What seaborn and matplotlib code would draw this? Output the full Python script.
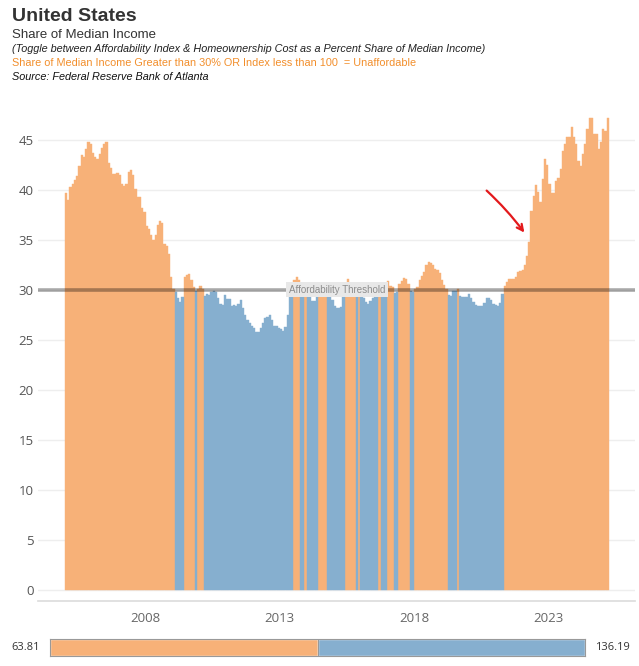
import numpy as np
import pandas as pd
import matplotlib
matplotlib.use('Agg')
import matplotlib.pyplot as plt
import seaborn as sns

# monthly homeownership cost as % of median income, Jan 2005 onwards
share_2005_2009 = [
    39.7, 39.0, 40.3, 40.55, 41.0, 41.4, 42.4, 43.5, 43.3, 44.05, 44.8, 44.55,
    43.7, 43.3, 43.05, 43.55, 44.2, 44.55, 44.8, 42.7, 42.2, 41.6, 41.6, 41.7,
    41.5, 40.6, 40.4, 40.6, 41.8, 42.0, 41.5, 40.1, 39.3, 39.3, 38.2, 37.8,
    36.4, 36.1, 35.5, 35.0, 35.5, 36.5, 36.9, 36.7, 34.6, 34.4, 33.6, 31.25,
    30.05, 29.8, 29.2, 28.8, 29.3, 31.3, 31.5, 31.55, 31.0, 30.3, 29.9, 30.1,
]
share_2010_2014 = [
    30.35, 30.05, 29.4, 29.55, 29.45, 29.8, 29.85, 29.8, 29.15, 28.6, 28.5, 29.45,
    29.05, 29.05, 28.35, 28.45, 28.35, 28.6, 29.0, 28.2, 27.5, 27.0, 26.65, 26.4,
    26.2, 25.75, 25.75, 26.2, 26.7, 27.2, 27.25, 27.5, 27.0, 26.4, 26.4, 26.2,
    26.1, 25.9, 26.3, 27.5, 29.3, 29.8, 31.0, 31.3, 31.0, 29.6, 29.4, 30.3,
    29.6, 29.3, 28.9, 28.9, 29.3, 30.3, 30.5, 30.7, 30.4, 29.5, 29.3, 29.0,
]
share_2015_2019 = [
    28.4, 28.2, 28.2, 28.3, 29.3, 30.4, 31.1, 30.5, 30.3, 30.2, 29.8, 30.2,
    29.4, 29.2, 28.8, 28.6, 28.9, 29.2, 29.5, 29.7, 30.4, 29.6, 29.7, 29.8,
    30.9, 30.4, 30.3, 29.7, 29.8, 30.6, 30.85, 31.2, 31.1, 30.6, 29.9, 29.8,
    30.1, 30.3, 31.0, 31.4, 31.8, 32.5, 32.75, 32.7, 32.5, 32.1, 32.0, 31.7,
    31.0, 30.5, 30.05, 29.5, 29.4, 29.85, 29.85, 30.05, 29.4, 29.3, 29.3, 29.3,
]
share_2020_2025 = [
    29.6, 29.2, 28.8, 28.5, 28.35, 28.35, 28.4, 28.7, 29.2, 29.2, 29.0, 28.6,
    28.5, 28.4, 28.7, 29.6, 30.35, 30.75, 31.1, 31.1, 31.1, 31.25, 31.75, 31.85,
    31.95, 32.5, 33.35, 34.8, 37.9, 39.4, 40.5, 39.8, 38.8, 41.1, 43.1, 42.5,
    40.6, 39.7, 39.7, 40.9, 41.2, 42.1, 43.85, 44.6, 45.3, 45.3, 46.3, 45.3,
    44.6, 42.85, 42.4, 43.55, 44.6, 46.1, 47.2, 47.15, 45.55, 45.55, 44.05, 44.8,
    46.1, 45.9, 47.15,
]

start_month = '2005-01'
threshold = 30
year_ticks = ['2008', '2013', '2018', '2023']
legend_min, legend_mid, legend_max = 63.81, 100, 136.19

orange = '#F7B178'
blue = '#86AFCF'

share = share_2005_2009 + share_2010_2014 + share_2015_2019 + share_2020_2025
months = pd.date_range(start_month, periods=len(share), freq='MS')
df = pd.DataFrame({'month': months.strftime('%Y-%m'), 'share': share})
df['status'] = np.where(df['share'] > threshold, 'Unaffordable', 'Affordable')

sns.set_theme(style='white')
plt.rcParams['font.family'] = ['Liberation Sans', 'DejaVu Sans']

fig = plt.figure(figsize=(6.39, 6.66), dpi=100)
ax = fig.add_axes([0.0595, 0.0976, 0.9342, 0.7454])

sns.barplot(data=df, x='month', y='share', hue='status',
            palette={'Unaffordable': orange, 'Affordable': blue},
            dodge=False, width=1.0, saturation=1, errorbar=None,
            legend=False, ax=ax)
for p in ax.patches:
    p.set_edgecolor(p.get_facecolor())
    p.set_linewidth(0.3)

ax.set_xlim(-12.56, 254.2)
ax.set_ylim(-1.05, 48.5)
ax.set_yticks(range(0, 50, 5))
ax.yaxis.grid(True, color='#EEEEEE', lw=1)
ax.xaxis.grid(False)
ax.set_axisbelow(True)

tick_pos = [df.index[df['month'] == y + '-01'][0] - 0.5 for y in year_ticks]
ax.set_xticks(tick_pos)
ax.set_xticklabels(year_ticks)
ax.set_xlabel('')
ax.set_ylabel('')
ax.tick_params(axis='x', length=3, color='#DDDDDD', pad=5, labelsize=9.5,
               labelcolor='#666666')
ax.tick_params(axis='y', length=0, pad=3, labelsize=9.5, labelcolor='#555555')
for lab in ax.get_xticklabels() + ax.get_yticklabels():
    lab.set_family(['Open Sans', 'DejaVu Sans'])
for s in ['top', 'right', 'left']:
    ax.spines[s].set_visible(False)
ax.spines['bottom'].set_color('#DDDDDD')

ax.axhline(threshold, color='black', alpha=0.33, lw=2.6, zorder=3)
ax.text(121, threshold, 'Affordability Threshold', ha='center', va='center',
        fontsize=7, color='#8C8C8C', zorder=4,
        bbox=dict(boxstyle='square,pad=0.25', fc='#E8E8E8', ec='none'))

# hand-drawn style pointer at the 2022 jump
ax.annotate('', xy=(205.5, 35.5), xytext=(187, 40.1),
            arrowprops=dict(arrowstyle='->', color='#E3191C', lw=1.6,
                            connectionstyle='arc3,rad=-0.05',
                            mutation_scale=11), zorder=5)

# header
fig.text(12 / 639, 1 - 8 / 666, 'United States', fontsize=14, fontweight='bold',
         color='#333333', va='top')
fig.text(12 / 639, 1 - 29 / 666, 'Share of Median Income', fontsize=9.5,
         color='#333333', va='top')
fig.text(12 / 639, 1 - 44 / 666,
         '(Toggle between Affordability Index & Homeownership Cost as a Percent Share of Median Income)',
         fontsize=7.8, style='italic', color='#222222', va='top')
fig.text(12 / 639, 1 - 58 / 666,
         'Share of Median Income Greater than 30% OR Index less than 100  = Unaffordable',
         fontsize=7.8, color='#F28E2B', va='top')
fig.text(12 / 639, 1 - 72 / 666, 'Source: Federal Reserve Bank of Atlanta',
         fontsize=7.8, style='italic', color='#111111', va='top')

# colour legend
lax = fig.add_axes([50 / 639, 1 - 656 / 666, 535 / 639, 17 / 666])
lax.barh(0, legend_mid - legend_min, left=legend_min, height=1, color=orange)
lax.barh(0, legend_max - legend_mid, left=legend_mid, height=1, color=blue)
lax.axvline(legend_mid, color='#999999', lw=0.8)
lax.set_xlim(legend_min, legend_max)
lax.set_ylim(-0.5, 0.5)
lax.set_xticks([])
lax.set_yticks([])
for s in lax.spines.values():
    s.set_color('#999999')
    s.set_linewidth(0.8)
fig.text(40 / 639, 1 - 647 / 666, f'{legend_min:.2f}', ha='right', va='center',
         fontsize=8, color='#333333', family=['Open Sans', 'DejaVu Sans'])
fig.text(595 / 639, 1 - 647 / 666, f'{legend_max:.2f}', ha='left', va='center',
         fontsize=8, color='#333333', family=['Open Sans', 'DejaVu Sans'])

fig.savefig('out.png', dpi=100)
